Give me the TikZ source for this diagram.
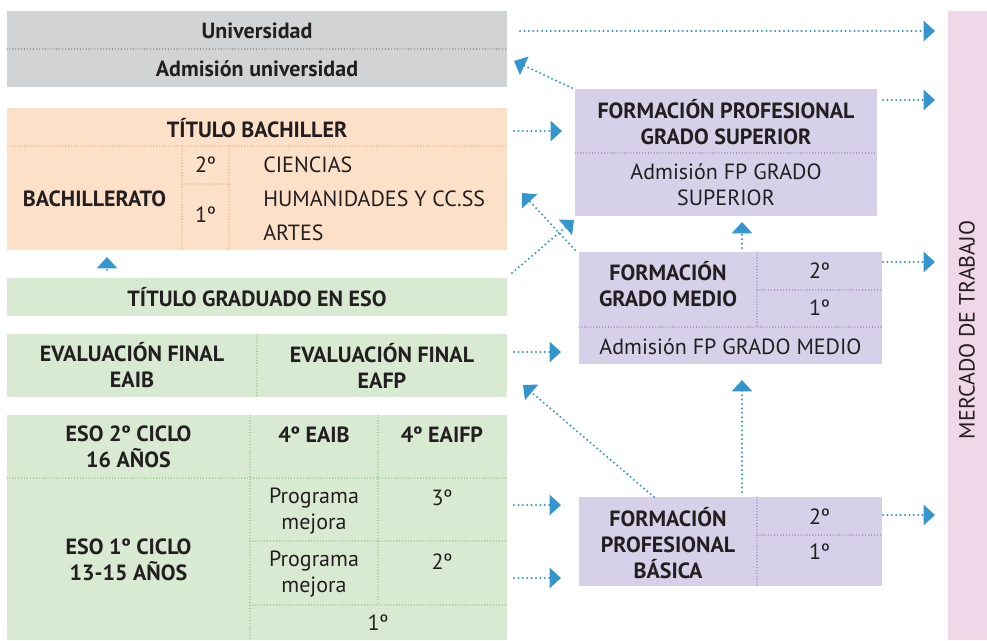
\documentclass[tikz,border=0pt]{standalone}
\usepackage{fontspec}
\setmainfont{PT Sans}
\usetikzlibrary{arrows.meta}
\definecolor{inkcolor}{RGB}{35,31,32}
\definecolor{unicolor}{RGB}{209,211,212}
\definecolor{unidot}{RGB}{110,110,113}
\definecolor{bachcolor}{RGB}{253,224,200}
\definecolor{bachdot}{RGB}{246,160,84}
\definecolor{esocolor}{RGB}{217,234,210}
\definecolor{esodot}{RGB}{108,190,90}
\definecolor{fpcolor}{RGB}{214,209,232}
\definecolor{fpdot}{RGB}{140,107,191}
\definecolor{workcolor}{RGB}{240,216,232}
\definecolor{flowcolor}{RGB}{52,150,205}

\begin{document}
\begin{tikzpicture}[x=0.75pt, y=-0.75pt,
    block/.style={inner sep=0pt, outer sep=0pt},
    txt/.style={font=\fontsize{16.5}{19.5}\selectfont, text=inkcolor, align=center, inner sep=0pt},
    tit/.style={txt, font=\fontsize{16.5}{19.5}\selectfont\bfseries},
    sep/.style={line width=1pt, line cap=round, dash pattern=on 0pt off 2.2pt},
    flow/.style={flowcolor, line width=1.7pt, line cap=round, dash pattern=on 0pt off 3.3pt, -{Triangle[length=8.5pt, width=15pt]}}
]
    \useasboundingbox (0,0) rectangle (987,640);

    % Blocks (left column)
    \node[block, fill=unicolor, minimum width=375pt, minimum height=57pt] (gris) at (257,49) {};
    \node[block, fill=bachcolor, minimum width=375pt, minimum height=106.5pt] (bachbox) at (257,179) {};
    \node[block, fill=esocolor, minimum width=375pt, minimum height=28.5pt] (tesobox) at (257,297) {};
    \node[block, fill=esocolor, minimum width=375pt, minimum height=47.25pt] (evalbox) at (257,365.5) {};
    \node[block, fill=esocolor, minimum width=375pt, minimum height=168.75pt] (esobox) at (257,527.5) {};

    % Blocks (right column)
    \node[block, fill=fpcolor, minimum width=226.5pt, minimum height=95.25pt] (fpgsbox) at (726,152.5) {};
    \node[block, fill=fpcolor, minimum width=227.25pt, minimum height=84pt] (fpgmbox) at (730.5,308) {};
    \node[block, fill=fpcolor, minimum width=227.25pt, minimum height=66.75pt] (fpbbox) at (730.5,541.5) {};
    \node[block, fill=workcolor, minimum width=29.25pt, minimum height=471.75pt] (mt) at (967.5,325.5) {};

    % Dividers
    \draw[sep, unidot] (gris.west) -- (gris.east);
    \draw[sep, bachdot] (7,146) -- (507,146);
    \draw[sep, bachdot] (182,146) -- (182,250);
    \draw[sep, bachdot] (229,146) -- (229,250);
    \draw[sep, bachdot] (182,184) -- (229,184);
    \draw[sep, esodot] (evalbox.north) -- (evalbox.south);
    \draw[sep, esodot] (250,415) -- (250,640);
    \draw[sep, esodot] (378,415) -- (378,605);
    \draw[sep, esodot] (7,478) -- (507,478);
    \draw[sep, esodot] (250,541) -- (507,541);
    \draw[sep, esodot] (250,605) -- (507,605);
    \draw[sep, fpdot] (575,153) -- (877,153);
    \draw[sep, fpdot] (757,252) -- (757,327);
    \draw[sep, fpdot] (757,290) -- (882,290);
    \draw[sep, fpdot] (579,327) -- (882,327);
    \draw[sep, fpdot] (757,497) -- (757,586);
    \draw[sep, fpdot] (757,535) -- (882,535);

    % Texts (left column)
    \node[tit] (tuni) at (257,31) {Universidad};
    \node[tit] (tadmuni) at (257,69) {Admisión universidad};
    \node[tit] (tbach) at (257,128) {TÍTULO BACHILLER};
    \node[tit] (bachl) at (94.5,199) {BACHILLERATO};
    \node[txt] (by2) at (205.5,165) {2º};
    \node[txt] (by1) at (205.5,215) {1º};
    \node[txt, anchor=west] (cien) at (263,165) {CIENCIAS};
    \node[txt, anchor=west] (hum) at (263,199) {HUMANIDADES Y CC.SS};
    \node[txt, anchor=west] (artes) at (263,233) {ARTES};
    \node[tit] (teso) at (257,297) {TÍTULO GRADUADO EN ESO};
    \node[tit] (eaib) at (132,365.5) {EVALUACIÓN FINAL\\EAIB};
    \node[tit] (eafp) at (382,365.5) {EVALUACIÓN FINAL\\EAFP};
    \node[tit] (eso2) at (128.5,447) {ESO 2º CICLO\\16 AÑOS};
    \node[tit] (e4a) at (314,435) {4º EAIB};
    \node[tit] (e4b) at (442,435) {4º EAIFP};
    \node[txt] (prog3) at (314,511) {Programa\\mejora};
    \node[txt] (prog2) at (314,574) {Programa\\mejora};
    \node[txt] (e3) at (442,498) {3º};
    \node[txt] (e2) at (442,562) {2º};
    \node[txt] (e1) at (378,623) {1º};
    \node[tit] (eso1) at (128.5,560) {ESO 1º CICLO\\13-15 AÑOS};

    % Texts (right column)
    \node[tit] (fpgs) at (726,122) {FORMACIÓN PROFESIONAL\\GRADO SUPERIOR};
    \node[txt] (admgs) at (726,185) {Admisión FP GRADO\\SUPERIOR};
    \node[tit] (fpgm) at (668,284) {FORMACIÓN\\GRADO MEDIO};
    \node[txt] (gm2) at (819.5,271) {2º};
    \node[txt] (gm1) at (819.5,308) {1º};
    \node[txt] (admgm) at (730.5,347) {Admisión FP GRADO MEDIO};
    \node[tit] (fpb) at (668,543) {FORMACIÓN\\PROFESIONAL\\BÁSICA};
    \node[txt] (fb2) at (819.5,517) {2º};
    \node[txt] (fb1) at (819.5,552) {1º};
    \node[txt, rotate=90] (mtt) at (967,330) {MERCADO DE TRABAJO};

    % Flows
    \draw[flow] ([shift={(13,-18)}]gris.east) -- ([shift={(-13,-294.5)}]mt.west);
    \draw[flow] ([shift={(6,11)}]fpgsbox.north east) -- ([shift={(-13,-225.5)}]mt.west);
    \draw[flow] ([shift={(7,23)}]bachbox.north east) -- ([shift={(-13,-21.5)}]fpgsbox.west);
    \draw[flow] ([shift={(-3,-1)}]fpgsbox.north west) -- ([shift={(7,12)}]gris.east);
    \draw[flow] ([shift={(1,10)}]fpgmbox.north east) -- ([shift={(-13,-63.5)}]mt.west);
    \draw[flow] ([shift={(5,-5)}]tesobox.north east) -- ([shift={(-1,4)}]fpgsbox.south west);
    \draw[flow] ([shift={(-4,-2)}]fpgmbox.north west) -- ([shift={(15,14)}]bachbox.east);
    \draw[flow] ([shift={(7,-13.5)}]evalbox.east) -- ([shift={(-18,44)}]fpgmbox.west);
    \draw[flow] ([shift={(11.5,-4)}]fpgmbox.north) -- ([shift={(16,6)}]fpgsbox.south);
    \draw[flow] ([shift={(-150,-8)}]tesobox.north) -- ([shift={(-150,7)}]bachbox.south);
    \draw[flow] ([shift={(7,-22.5)}]esobox.east) -- ([shift={(-18,-36.5)}]fpbbox.west);
    \draw[flow] ([shift={(7,50.5)}]esobox.east) -- ([shift={(-18,36.5)}]fpbbox.west);
    \draw[flow] ([shift={(11.5,-5)}]fpbbox.north) -- ([shift={(11.5,16)}]fpgmbox.south);
    \draw[flow] ([shift={(75,0)}]fpbbox.north west) -- ([shift={(16,19.5)}]evalbox.east);
    \draw[flow] ([shift={(1,-26.5)}]fpbbox.east) -- ([shift={(-13,189.5)}]mt.west);

\end{tikzpicture}
\end{document}
